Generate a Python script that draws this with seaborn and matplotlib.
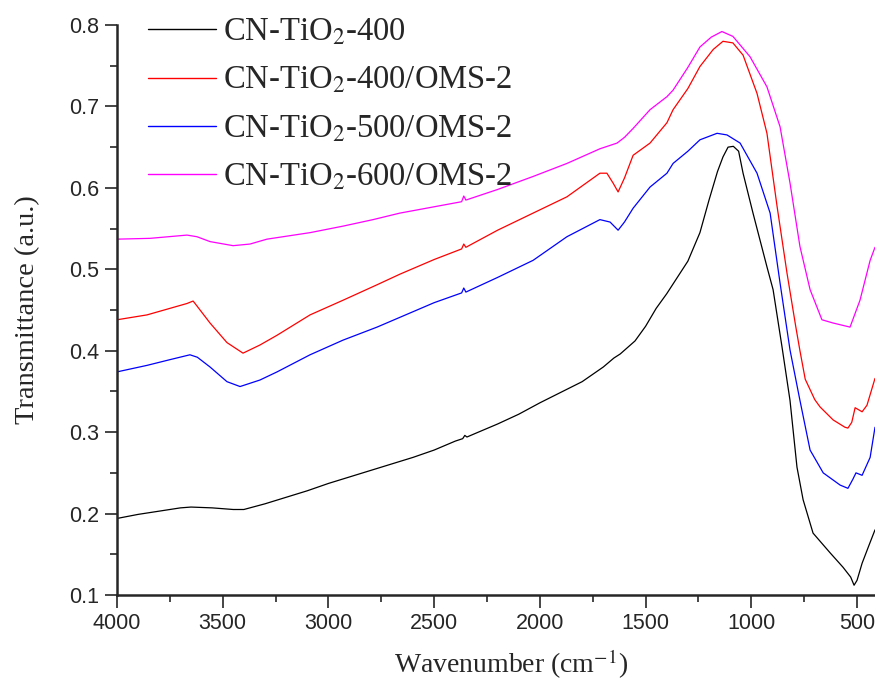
import numpy as np
import pandas as pd
import matplotlib
matplotlib.use("Agg")
import matplotlib.pyplot as plt
from matplotlib.ticker import MultipleLocator
import seaborn as sns

# FTIR spectra
wn_400 = [4000, 3900, 3800, 3700, 3650, 3550, 3450, 3400, 3300, 3200, 3100, 3000, 2900,
          2800, 2700, 2600, 2500, 2400, 2365, 2355, 2345, 2300, 2200, 2100, 2000, 1900,
          1800, 1700, 1650, 1620, 1550, 1500, 1450, 1400, 1300, 1243, 1200, 1160, 1134,
          1110, 1085, 1060, 1039, 992, 926, 897, 855, 817, 784, 755, 708, 628, 566, 530,
          514, 500, 476, 445, 415]
t_400 = [0.194, 0.199, 0.203, 0.207, 0.208, 0.207, 0.205, 0.205, 0.212, 0.220, 0.228, 0.237,
         0.245, 0.253, 0.261, 0.269, 0.278, 0.289, 0.292, 0.296, 0.294, 0.299, 0.310, 0.322,
         0.336, 0.349, 0.362, 0.380, 0.391, 0.396, 0.412, 0.430, 0.452, 0.470, 0.510, 0.545,
         0.585, 0.620, 0.638, 0.650, 0.651, 0.645, 0.618, 0.569, 0.503, 0.475, 0.405, 0.339,
         0.257, 0.217, 0.176, 0.152, 0.134, 0.122, 0.112, 0.118, 0.139, 0.160, 0.180]

wn_400_oms = [4000, 3858, 3750, 3669, 3640, 3622, 3560, 3480, 3404, 3324, 3243, 3087, 2931,
              2770, 2662, 2500, 2370, 2360, 2350, 2200, 2032, 1872, 1716, 1683, 1654, 1630,
              1600, 1559, 1479, 1399, 1370, 1300, 1243, 1180, 1134, 1087, 1039, 973, 926, 878,
              831, 790, 770, 745, 700, 675, 613, 557, 543, 525, 509, 476, 453, 415]
t_400_oms = [0.438, 0.444, 0.452, 0.458, 0.461, 0.455, 0.434, 0.410, 0.397, 0.407, 0.419, 0.444,
             0.462, 0.481, 0.494, 0.512, 0.525, 0.531, 0.527, 0.548, 0.569, 0.589, 0.618, 0.618,
             0.606, 0.595, 0.612, 0.640, 0.655, 0.680, 0.696, 0.722, 0.749, 0.770, 0.780, 0.778,
             0.763, 0.716, 0.667, 0.577, 0.495, 0.430, 0.400, 0.365, 0.340, 0.331, 0.315, 0.306,
             0.305, 0.312, 0.330, 0.325, 0.333, 0.366]

wn_500_oms = [4000, 3858, 3750, 3655, 3620, 3560, 3480, 3418, 3324, 3243, 3087, 2931, 2770,
              2662, 2500, 2370, 2360, 2350, 2200, 2032, 1872, 1716, 1668, 1630, 1600, 1559,
              1479, 1399, 1370, 1300, 1243, 1162, 1115, 1053, 973, 911, 864, 817, 770, 722,
              660, 580, 543, 520, 505, 476, 438, 415]
t_500_oms = [0.374, 0.382, 0.389, 0.395, 0.392, 0.380, 0.362, 0.356, 0.364, 0.374, 0.395, 0.413,
             0.429, 0.441, 0.459, 0.471, 0.477, 0.472, 0.490, 0.511, 0.540, 0.561, 0.558, 0.548,
             0.558, 0.575, 0.601, 0.618, 0.630, 0.645, 0.659, 0.667, 0.665, 0.655, 0.618, 0.569,
             0.483, 0.401, 0.339, 0.278, 0.250, 0.235, 0.231, 0.242, 0.250, 0.247, 0.269, 0.306]

wn_600_oms = [4000, 3844, 3669, 3622, 3560, 3451, 3371, 3291, 3087, 2931, 2789, 2662, 2370,
              2360, 2350, 2200, 2032, 1872, 1716, 1635, 1600, 1559, 1479, 1399, 1370, 1300,
              1243, 1190, 1139, 1087, 1006, 926, 864, 817, 770, 722, 666, 613, 533, 486, 438, 415]
t_600_oms = [0.537, 0.538, 0.542, 0.540, 0.534, 0.529, 0.531, 0.537, 0.545, 0.553, 0.561, 0.569,
             0.583, 0.590, 0.585, 0.598, 0.614, 0.630, 0.648, 0.655, 0.662, 0.673, 0.696, 0.712,
             0.720, 0.748, 0.773, 0.785, 0.792, 0.786, 0.761, 0.724, 0.675, 0.606, 0.528, 0.475,
             0.438, 0.434, 0.429, 0.462, 0.511, 0.527]

labels = ["CN-TiO$_2$-400", "CN-TiO$_2$-400/OMS-2", "CN-TiO$_2$-500/OMS-2", "CN-TiO$_2$-600/OMS-2"]
colors = ["#000000", "#FF0000", "#0000FF", "#FF00FF"]

# Long table for seaborn
frames = []
for lab, wn, t in zip(labels,
                      [wn_400, wn_400_oms, wn_500_oms, wn_600_oms],
                      [t_400, t_400_oms, t_500_oms, t_600_oms]):
    frames.append(pd.DataFrame({"wn": wn, "t": t, "sample": lab}))
df = pd.concat(frames, ignore_index=True)

sns.set_style("ticks")
plt.rcParams["font.family"] = ["Liberation Sans", "DejaVu Sans"]
plt.rcParams["mathtext.fontset"] = "stix"

fig = plt.figure(figsize=(8.75, 6.82), dpi=100)
ax = fig.add_axes([117 / 875, 1 - 595 / 682, 758 / 875, 570 / 682])

sns.lineplot(data=df, x="wn", y="t", hue="sample", hue_order=labels,
             palette=dict(zip(labels, colors)), estimator=None, sort=False,
             linewidth=0.9, ax=ax)

ax.set_xlim(4000, 415)
ax.set_ylim(0.1, 0.8)
ax.xaxis.set_major_locator(MultipleLocator(500))
ax.xaxis.set_minor_locator(MultipleLocator(250))
ax.yaxis.set_major_locator(MultipleLocator(0.1))
ax.yaxis.set_minor_locator(MultipleLocator(0.05))
ax.tick_params(which="major", direction="out", length=9, width=1.2, labelsize=15.5, pad=4)
ax.tick_params(which="minor", direction="out", length=5, width=1.2)

for side in ["top", "right"]:
    ax.spines[side].set_visible(False)
for side in ["left", "bottom"]:
    ax.spines[side].set_linewidth(1.8)

serif = ["Liberation Serif", "DejaVu Serif"]
ax.set_xlabel("Wavenumber (cm$^{-1}$)", fontsize=20, family=serif)
ax.set_ylabel("Transmittance (a.u.)", fontsize=20.5, family=serif)
ax.xaxis.set_label_coords(0.52, -0.093)
ax.yaxis.set_label_coords(-0.102, 0.5)

leg = ax.legend(loc="upper left", bbox_to_anchor=(0.041, 1.014), frameon=False,
                borderpad=0, borderaxespad=0, handlelength=2.08, handletextpad=0.22,
                labelspacing=0.55, prop={"family": serif, "size": 23.5})
for line in leg.get_lines():
    line.set_linewidth(1.0)

fig.savefig("out.png", dpi=100)
